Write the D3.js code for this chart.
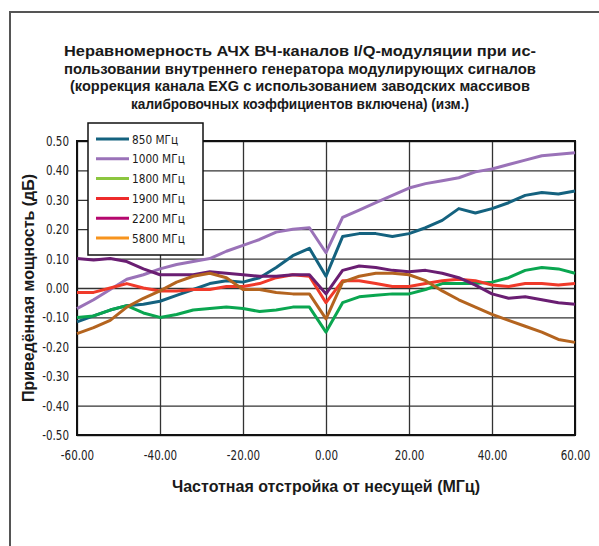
<!DOCTYPE html>
<html>
<head>
<meta charset="utf-8">
<script src="https://d3js.org/d3.v7.min.js"></script>
<style>
body { margin: 0; background: #fff; }
.tick text { font-family: "Liberation Sans Narrow", "DejaVu Sans Condensed", sans-serif; font-size: 14px; fill: #222; }
.grid line { stroke: #333; stroke-width: 1.3; }
</style>
</head>
<body>
<svg width="599" height="546"></svg>
<script>
// frequency offset, MHz
var offsets = [-60, -56, -52, -48, -44, -40, -36, -32, -28, -24, -20, -16, -12, -8, -4, 0,
               4, 8, 12, 16, 20, 24, 28, 32, 36, 40, 44, 48, 52, 56, 60];

var s850  = [-0.115, -0.095, -0.075, -0.06, -0.055, -0.045, -0.025, -0.005, 0.015, 0.025, 0.02, 0.035, 0.07, 0.11, 0.135, 0.04,
             0.175, 0.185, 0.185, 0.175, 0.185, 0.205, 0.23, 0.27, 0.255, 0.27, 0.29, 0.315, 0.325, 0.32, 0.33];
var s1000 = [-0.07, -0.04, -0.005, 0.03, 0.045, 0.065, 0.08, 0.09, 0.10, 0.125, 0.145, 0.165, 0.19, 0.20, 0.205, 0.12,
             0.24, 0.265, 0.29, 0.315, 0.34, 0.355, 0.365, 0.375, 0.395, 0.405, 0.42, 0.435, 0.45, 0.455, 0.46];
var s1800 = [-0.10, -0.095, -0.075, -0.06, -0.085, -0.10, -0.09, -0.075, -0.07, -0.065, -0.07, -0.08, -0.075, -0.065, -0.065, -0.15,
             -0.05, -0.03, -0.025, -0.02, -0.02, -0.005, 0.015, 0.015, 0.015, 0.02, 0.035, 0.06, 0.07, 0.065, 0.05];
var s1900 = [-0.015, -0.015, 0.0, 0.015, 0.0, -0.01, -0.01, -0.005, -0.005, 0.005, 0.005, 0.015, 0.035, 0.045, 0.04, -0.05,
             0.025, 0.025, 0.015, 0.005, 0.005, 0.015, 0.025, 0.03, 0.025, 0.01, 0.005, 0.015, 0.015, 0.01, 0.015];
var s2200 = [0.10, 0.095, 0.10, 0.09, 0.065, 0.045, 0.045, 0.045, 0.055, 0.05, 0.045, 0.04, 0.04, 0.045, 0.045, -0.02,
             0.06, 0.075, 0.07, 0.06, 0.055, 0.06, 0.05, 0.035, 0.01, -0.02, -0.035, -0.03, -0.04, -0.05, -0.055];
var s5800 = [-0.155, -0.135, -0.11, -0.065, -0.035, -0.01, 0.02, 0.04, 0.05, 0.035, -0.005, -0.005, -0.015, -0.02, -0.02, -0.105,
             0.02, 0.04, 0.05, 0.05, 0.045, 0.025, -0.01, -0.04, -0.065, -0.09, -0.11, -0.13, -0.15, -0.175, -0.185];

var names = ["850 МГц", "1000 МГц", "1800 МГц", "1900 МГц", "2200 МГц", "5800 МГц"];
var seriesValues = [s850, s1000, s1800, s1900, s2200, s5800];
// the plotted lines and the legend swatches do not share colours in the original
var lineColors   = ["#14627f", "#9a72b8", "#0aa650", "#f03a2a", "#6a1e72", "#b4641f"];
var legendColors = ["#14627f", "#9a72b8", "#8cc63f", "#ee2b2b", "#b5076e", "#f7941d"];

var yTicks = [-0.5, -0.4, -0.3, -0.2, -0.1, 0, 0.1, 0.2, 0.3, 0.4, 0.5];
var xTicks = [-60, -40, -20, 0, 20, 40, 60];

var titleLines = [
  "Неравномерность АЧХ ВЧ-каналов I/Q-модуляции при ис-",
  "пользовании внутреннего генератора модулирующих сигналов",
  "(коррекция канала EXG с использованием заводских массивов",
  "калибровочных коэффициентов включена) (изм.)"
];

var svg = d3.select("svg");
var plotL = 77, plotR = 575, plotT = 141, plotB = 435;

var x = d3.scaleLinear().domain([-60, 60]).range([plotL, plotR]);
var y = d3.scaleLinear().domain([-0.5, 0.5]).range([plotB, plotT]);

// hyphen instead of the unicode minus that d3.format gives
var fmt = function(d) { return d3.format(".2f")(d).replace("\u2212", "-"); };

// squeeze text horizontally to mimic the narrow font of the original
function narrow(sel, k) {
  sel.each(function() {
    var w = this.getComputedTextLength();
    d3.select(this).attr("textLength", w * k).attr("lengthAdjust", "spacingAndGlyphs");
  });
}

// outer frame (left and top edges only)
svg.append("path")
  .attr("d", "M10,546 L10,12 L599,12")
  .attr("fill", "none")
  .attr("stroke", "#555")
  .attr("stroke-width", 2);

// title
var title = svg.append("text")
  .attr("text-anchor", "middle")
  .attr("font-family", "Liberation Sans, Arial, sans-serif")
  .attr("font-weight", "bold")
  .attr("font-size", "15.5px")
  .attr("fill", "#1a1a1a");
var titleWidths = [472, 472, 460, 338];
titleLines.forEach(function(t, i) {
  title.append("tspan")
    .attr("x", 300)
    .attr("y", 56 + i * 17.7)
    .attr("textLength", titleWidths[i])
    .attr("lengthAdjust", "spacingAndGlyphs")
    .text(t);
});

// horizontal grid + y labels
var gy = svg.append("g")
  .attr("class", "grid")
  .attr("transform", "translate(" + plotL + ",0)")
  .call(d3.axisLeft(y).tickValues(yTicks).tickSize(-(plotR - plotL)).tickPadding(8).tickFormat(fmt));
gy.select(".domain").remove();
narrow(gy.selectAll("text"), 0.82);

// vertical grid + x labels
var gx = svg.append("g")
  .attr("class", "grid")
  .attr("transform", "translate(0," + plotB + ")")
  .call(d3.axisBottom(x).tickValues(xTicks).tickSize(-(plotB - plotT)).tickPadding(15).tickFormat(fmt));
gx.select(".domain").remove();
narrow(gx.selectAll("text"), 0.82);

// plot border
svg.append("rect")
  .attr("x", plotL).attr("y", plotT)
  .attr("width", plotR - plotL).attr("height", plotB - plotT)
  .attr("fill", "none")
  .attr("stroke", "#111")
  .attr("stroke-width", 2);

// lines
var line = d3.line()
  .x(function(d, i) { return x(offsets[i]); })
  .y(function(d) { return y(d); });

svg.selectAll(".series")
  .data(seriesValues)
  .enter().append("path")
  .attr("class", "series")
  .attr("d", line)
  .attr("fill", "none")
  .attr("stroke", function(d, i) { return lineColors[i]; })
  .attr("stroke-width", 3)
  .attr("stroke-linejoin", "round");

// axis titles
svg.append("text")
  .attr("x", 326).attr("y", 492)
  .attr("text-anchor", "middle")
  .attr("font-family", "Liberation Sans, Arial, sans-serif")
  .attr("font-weight", "bold")
  .attr("font-size", "16px")
  .attr("fill", "#1a1a1a")
  .text("Частотная отстройка от несущей (МГц)");

svg.append("text")
  .attr("transform", "translate(34,288) rotate(-90)")
  .attr("text-anchor", "middle")
  .attr("font-family", "Liberation Sans, Arial, sans-serif")
  .attr("font-weight", "bold")
  .attr("font-size", "16px")
  .attr("fill", "#1a1a1a")
  .text("Приведённая мощность (дБ)");

// legend
var legend = svg.append("g");
legend.append("rect")
  .attr("x", 88).attr("y", 123)
  .attr("width", 115).attr("height", 132)
  .attr("fill", "#fff")
  .attr("stroke", "#111")
  .attr("stroke-width", 1.5);

var rows = legend.selectAll(".row")
  .data(names)
  .enter().append("g")
  .attr("transform", function(d, i) { return "translate(0," + (139 + i * 19.8) + ")"; });
rows.append("line")
  .attr("x1", 96).attr("x2", 129)
  .attr("stroke", function(d, i) { return legendColors[i]; })
  .attr("stroke-width", 3);
var legendText = rows.append("text")
  .attr("x", 132)
  .attr("dy", "0.36em")
  .attr("font-family", "Liberation Sans Narrow, DejaVu Sans Condensed, sans-serif")
  .attr("font-size", "13px")
  .attr("fill", "#1a1a1a")
  .text(function(d) { return d; });
narrow(legendText, 0.9);
</script>
</body>
</html>
